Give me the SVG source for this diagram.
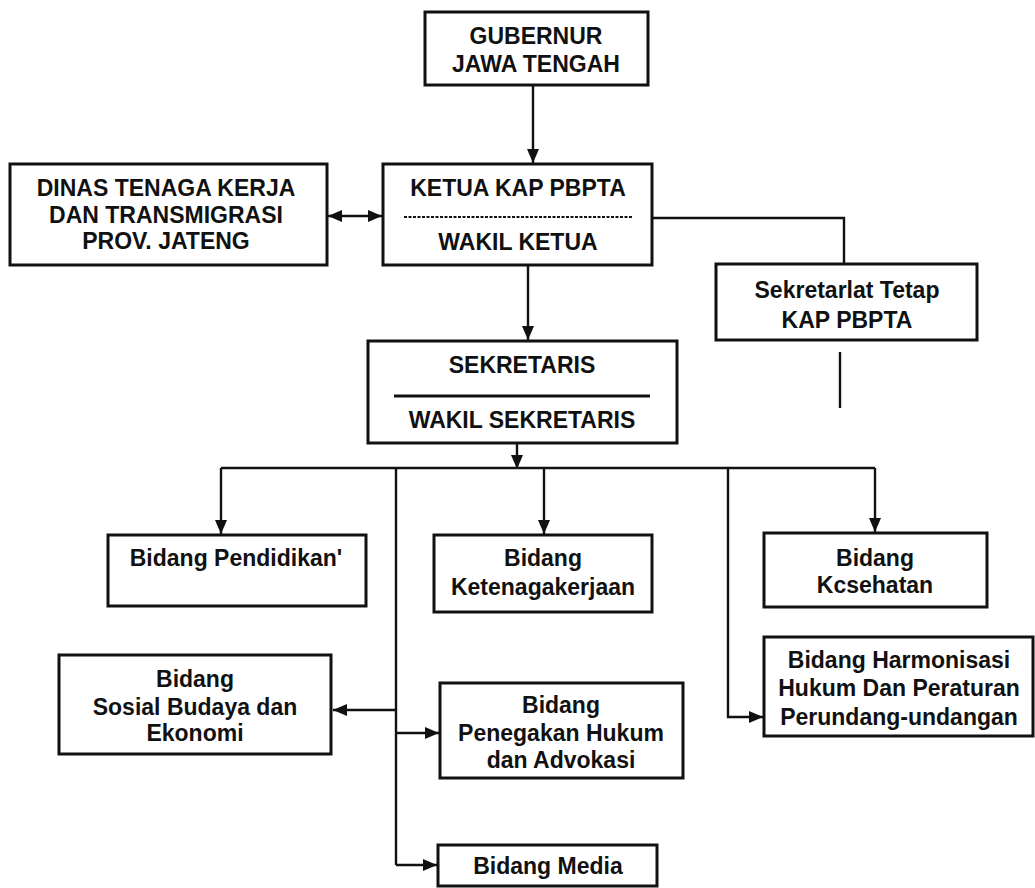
<svg xmlns="http://www.w3.org/2000/svg" width="1035" height="888" viewBox="0 0 1035 888">
<defs>
<marker id="ah" viewBox="0 0 14 12" refX="14" refY="6" markerWidth="14" markerHeight="12" markerUnits="userSpaceOnUse" orient="auto-start-reverse">
<path d="M0,0 L14,6 L0,12 Z" fill="#111"/>
</marker>
</defs>
<style>
.box{fill:#fff;stroke:#111;stroke-width:3}
.t{font-family:"Liberation Sans",Arial,sans-serif;font-weight:bold;font-size:23px;fill:#111;text-anchor:middle}
.c{fill:none;stroke:#111;stroke-width:2.4}
</style>
<rect width="1035" height="888" fill="#fff"/>
<g id="connectors">
<line class="c" x1="533" y1="85" x2="533" y2="163" marker-end="url(#ah)"/>
<line class="c" x1="328" y1="216" x2="382" y2="216" marker-start="url(#ah)" marker-end="url(#ah)"/>
<polyline class="c" points="652,218 844,218 844,264"/>
<line class="c" x1="840" y1="352" x2="840" y2="408"/>
<line class="c" x1="528" y1="265" x2="528" y2="340" marker-end="url(#ah)"/>
<line class="c" x1="517" y1="443" x2="517" y2="469" marker-end="url(#ah)"/>
<line class="c" x1="221" y1="468" x2="875" y2="468"/>
<line class="c" x1="221" y1="468" x2="221" y2="534" marker-end="url(#ah)"/>
<line class="c" x1="544" y1="468" x2="544" y2="534" marker-end="url(#ah)"/>
<line class="c" x1="875" y1="468" x2="875" y2="532" marker-end="url(#ah)"/>
<polyline class="c" points="728,468 728,717 763,717" marker-end="url(#ah)"/>
<line class="c" x1="396" y1="468" x2="396" y2="865"/>
<line class="c" x1="396" y1="710" x2="333" y2="710" marker-end="url(#ah)"/>
<line class="c" x1="396" y1="733" x2="439" y2="733" marker-end="url(#ah)"/>
<line class="c" x1="396" y1="865" x2="437" y2="865" marker-end="url(#ah)"/>
</g>
<g id="gubernur">
<rect class="box" x="425" y="12" width="223" height="73"/>
<text class="t" x="536" y="44">GUBERNUR</text>
<text class="t" x="536" y="72">JAWA TENGAH</text>
</g>
<g id="ketua">
<rect class="box" x="383" y="164" width="269" height="101"/>
<text class="t" x="518" y="196">KETUA KAP PBPTA</text>
<line x1="404" y1="217" x2="632" y2="217" stroke="#111" stroke-width="2" stroke-dasharray="3,1.5"/>
<text class="t" x="518" y="250">WAKIL KETUA</text>
</g>
<g id="dinas">
<rect class="box" x="10" y="164" width="317" height="101"/>
<text class="t" x="166" y="196">DINAS TENAGA KERJA</text>
<text class="t" x="166" y="223">DAN TRANSMIGRASI</text>
<text class="t" x="166" y="249">PROV. JATENG</text>
</g>
<g id="sekretariat-tetap">
<rect class="box" x="716" y="264" width="261" height="76"/>
<text class="t" x="847" y="298">Sekretarlat Tetap</text>
<text class="t" x="847" y="328">KAP PBPTA</text>
</g>
<g id="sekretaris">
<rect class="box" x="368" y="341" width="309" height="102"/>
<text class="t" x="522" y="373">SEKRETARIS</text>
<line x1="394" y1="396" x2="650" y2="396" stroke="#111" stroke-width="3"/>
<text class="t" x="522" y="428">WAKIL SEKRETARIS</text>
</g>
<g id="pendidikan">
<rect class="box" x="108" y="535" width="258" height="71"/>
<text class="t" x="236" y="566">Bidang Pendidikan'</text>
</g>
<g id="ketenagakerjaan">
<rect class="box" x="434" y="535" width="218" height="77"/>
<text class="t" x="543" y="566">Bidang</text>
<text class="t" x="543" y="595">Ketenagakerjaan</text>
</g>
<g id="kesehatan">
<rect class="box" x="764" y="533" width="223" height="74"/>
<text class="t" x="875" y="566">Bidang</text>
<text class="t" x="875" y="593">Kcsehatan</text>
</g>
<g id="harmonisasi">
<rect class="box" x="764" y="637" width="269" height="99"/>
<text class="t" x="899" y="668">Bidang Harmonisasi</text>
<text class="t" x="899" y="696">Hukum Dan Peraturan</text>
<text class="t" x="899" y="725">Perundang-undangan</text>
</g>
<g id="sosial">
<rect class="box" x="59" y="655" width="272" height="99"/>
<text class="t" x="195" y="687">Bidang</text>
<text class="t" x="195" y="715">Sosial Budaya dan</text>
<text class="t" x="195" y="741">Ekonomi</text>
</g>
<g id="penegakan">
<rect class="box" x="440" y="683" width="243" height="95"/>
<text class="t" x="561" y="713">Bidang</text>
<text class="t" x="561" y="741">Penegakan Hukum</text>
<text class="t" x="561" y="768">dan Advokasi</text>
</g>
<g id="media">
<rect class="box" x="438" y="845" width="219" height="41"/>
<text class="t" x="548" y="874">Bidang Media</text>
</g>
</svg>
